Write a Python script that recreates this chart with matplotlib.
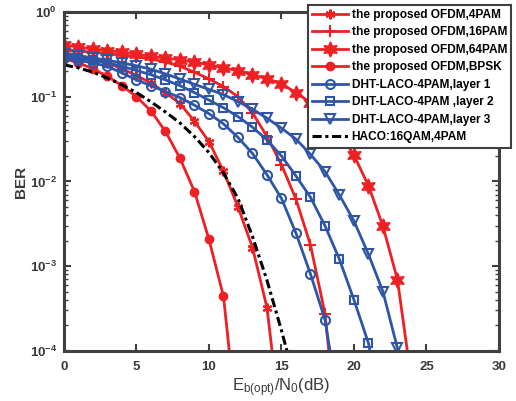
import matplotlib
matplotlib.use("Agg")
import matplotlib.pyplot as plt

plt.rcParams['font.family'] = ['Liberation Sans', 'DejaVu Sans']
plt.rcParams['font.weight'] = 'bold'
plt.rcParams['mathtext.fontset'] = 'custom'
plt.rcParams['mathtext.rm'] = 'Liberation Sans:bold'
plt.rcParams['mathtext.bf'] = 'Liberation Sans:bold'
plt.rcParams['mathtext.it'] = 'Liberation Sans:bold'
plt.rcParams['mathtext.default'] = 'regular'

# Eb(opt)/N0 grids (dB)
snr_4pam = [0, 1, 2, 3, 4, 5, 6, 7, 8, 9, 10, 11, 12, 13, 14, 15]
snr_16pam = [0, 1, 2, 3, 4, 5, 6, 7, 8, 9, 10, 11, 12, 13, 14, 15, 16, 17, 18, 19]
snr_64pam = [0, 1, 2, 3, 4, 5, 6, 7, 8, 9, 10, 11, 12, 13, 14, 15, 16, 17, 18, 19,
             20, 21, 22, 23, 24]
snr_bpsk = [0, 1, 2, 3, 4, 5, 6, 7, 8, 9, 10, 11, 12]
snr_layer1 = [0, 1, 2, 3, 4, 5, 6, 7, 8, 9, 10, 11, 12, 13, 14, 15, 16, 17, 18, 19]
snr_layer2 = [0, 1, 2, 3, 4, 5, 6, 7, 8, 9, 10, 11, 12, 13, 14, 15, 16, 17, 18, 19,
              20, 21, 22]
snr_layer3 = [0, 1, 2, 3, 4, 5, 6, 7, 8, 9, 10, 11, 12, 13, 14, 15, 16, 17, 18, 19,
              20, 21, 22, 23, 24]
snr_haco = [0, 1, 2, 3, 4, 5, 6, 7, 8, 9, 10, 11, 12, 13, 14, 15, 16]

# BER values
ber_4pam = [0.331, 0.309, 0.282, 0.251, 0.214, 0.178, 0.145, 0.112, 0.0832, 0.0513,
            0.0295, 0.0132, 5.0e-3, 1.66e-3, 3.24e-4, 1.12e-5]
ber_16pam = [0.355, 0.347, 0.335, 0.324, 0.309, 0.295, 0.279, 0.257, 0.229, 0.195,
             0.162, 0.132, 0.100, 0.0646, 0.0339, 0.0158, 6.17e-3, 1.78e-3, 2.75e-4, 6.3e-6]
ber_64pam = [0.410, 0.385, 0.366, 0.349, 0.337, 0.318, 0.299, 0.286, 0.273, 0.256,
             0.238, 0.218, 0.204, 0.182, 0.163, 0.142, 0.112, 0.0851, 0.0603, 0.0372,
             0.0204, 8.9e-3, 2.95e-3, 6.9e-4, 4.0e-5]
ber_bpsk = [0.282, 0.251, 0.214, 0.174, 0.135, 0.100, 0.068, 0.0389, 0.0188, 7.6e-3,
            2.07e-3, 4.4e-4, 1.07e-5]
ber_layer1 = [0.288, 0.269, 0.251, 0.228, 0.191, 0.158, 0.135, 0.115, 0.0977, 0.0794,
              0.0631, 0.0479, 0.0331, 0.0214, 0.0120, 6.3e-3, 2.45e-3, 8.1e-4, 2.34e-4, 2.0e-5]
ber_layer2 = [0.302, 0.288, 0.269, 0.251, 0.229, 0.204, 0.182, 0.158, 0.135, 0.112,
              0.0912, 0.0741, 0.0583, 0.0437, 0.0309, 0.0200, 0.0116, 6.5e-3, 3.0e-3,
              1.2e-3, 4.0e-4, 1.23e-4, 1.6e-5]
ber_layer3 = [0.316, 0.302, 0.288, 0.269, 0.251, 0.232, 0.211, 0.186, 0.162, 0.140,
              0.122, 0.106, 0.0877, 0.0713, 0.0558, 0.0426, 0.0316, 0.0209, 0.0131,
              6.9e-3, 3.41e-3, 1.38e-3, 5.0e-4, 1.07e-4, 1.26e-5]
ber_haco = [0.238, 0.219, 0.195, 0.166, 0.138, 0.112, 0.0871, 0.0661, 0.049, 0.0339,
            0.0219, 0.0126, 6.3e-3, 2.24e-3, 6.8e-4, 1.74e-4, 4.0e-5]

labels = ["the proposed OFDM,4PAM", "the proposed OFDM,16PAM",
          "the proposed OFDM,64PAM", "the proposed OFDM,BPSK",
          "DHT-LACO-4PAM,layer 1", "DHT-LACO-4PAM ,layer 2",
          "DHT-LACO-4PAM,layer 3", "HACO:16QAM,4PAM"]

red = "#ED2024"
blue = "#2F56A6"
frame = "#404040"
text_grey = "#3a3a3a"

fig = plt.figure(figsize=(5.16, 4.01), dpi=100)
ax = fig.add_axes([0.124, 0.125, 0.843, 0.845])

asterisk = (6, 2, 0)
hexagram = (6, 1, 0)

ax.semilogy(snr_4pam, ber_4pam, color=red, lw=2, marker=asterisk, ms=7, mew=1.5,
            label=labels[0])
ax.semilogy(snr_16pam, ber_16pam, color=red, lw=2, marker='+', ms=8, mew=1.5,
            label=labels[1])
ax.semilogy(snr_64pam, ber_64pam, color=red, lw=2, marker=hexagram, ms=11, mew=1,
            mfc=red, label=labels[2])
ax.semilogy(snr_bpsk, ber_bpsk, color=red, lw=2, marker='o', ms=6, mfc=red,
            label=labels[3])
ax.semilogy(snr_layer1, ber_layer1, color=blue, lw=2, marker='o', ms=6.5, mew=1.5,
            mfc='none', label=labels[4])
ax.semilogy(snr_layer2, ber_layer2, color=blue, lw=2, marker='s', ms=5.5, mew=1.5,
            mfc='none', label=labels[5])
ax.semilogy(snr_layer3, ber_layer3, color=blue, lw=2, marker='v', ms=7.5, mew=1.5,
            mfc='none', label=labels[6])
ax.semilogy(snr_haco, ber_haco, color='black', lw=2.2, ls=(0, (3, 1.2, 1, 1.2)),
            label=labels[7])

ax.set_xlim(0, 30)
ax.set_ylim(1e-4, 1)
ax.set_xticks([0, 5, 10, 15, 20, 25, 30])

for side in ax.spines.values():
    side.set_color(frame)
    side.set_linewidth(2.2)
ax.tick_params(which='both', direction='in', top=True, right=True,
               colors=frame, labelcolor=text_grey, labelsize=9.5)
ax.tick_params(which='major', length=5, width=1.5)
ax.tick_params(which='minor', length=3, width=1)
ax.tick_params(axis='x', pad=7)
ax.tick_params(axis='y', pad=5)

ax.set_ylabel("BER", fontsize=11, fontweight='bold', color=text_grey, labelpad=1)
ax.set_xlabel(r"E$_{b(opt)}$/N$_0$(dB)", fontsize=12, color=text_grey, labelpad=3)

leg = ax.legend(loc='upper left', bbox_to_anchor=(0.596, 0.988),
                bbox_transform=fig.transFigure, fontsize=8.6, frameon=True,
                fancybox=False, framealpha=1, edgecolor=frame,
                handlelength=3.0, handletextpad=0.35, labelspacing=0.46,
                borderpad=0.35, borderaxespad=0)
leg.get_frame().set_linewidth(1.5)

fig.savefig("out.png", dpi=100)
